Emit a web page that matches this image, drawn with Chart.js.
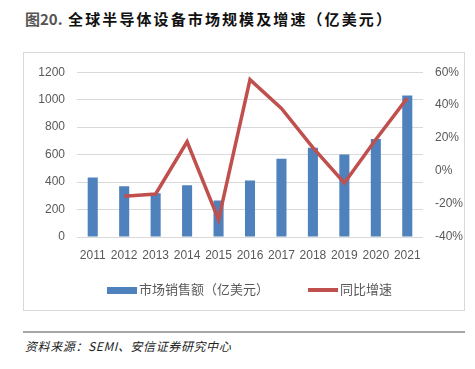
<!DOCTYPE html>
<html>
<head>
<meta charset="utf-8">
<script src="https://cdn.jsdelivr.net/npm/chart.js@4"></script>
<style>
  body { margin: 0; background: #fff; width: 475px; height: 369px; position: relative; overflow: hidden; }
  #title { position: absolute; left: 25px; top: 8px; font: bold 15px "Noto Sans CJK SC"; letter-spacing: 2.1px; color: #111; white-space: nowrap; }
  #title .num { color: #555; letter-spacing: 0; }
  #box { position: absolute; left: 23px; top: 52px; width: 442px; height: 259px; border: 1px solid #d9d9d9; box-sizing: border-box; }
  #chart { position: absolute; left: 0; top: 0; }
  #legend { position: absolute; left: 0; top: 226px; width: 100%; font: 13px "Noto Sans CJK SC"; color: #595959; white-space: nowrap; }
  .item { position: absolute; top: 0; height: 20px; line-height: 20px; }
  .sw { display: inline-block; width: 30px; vertical-align: middle; margin-right: 2px; }
  #rule { position: absolute; left: 23px; top: 331px; width: 442px; height: 2px; background: #a6a6a6; }
  #source { position: absolute; left: 25px; top: 337px; font: italic 12px "Noto Sans CJK SC"; letter-spacing: 0.6px; color: #222; white-space: nowrap; }
</style>
</head>
<body>
<div id="title"><span class="num">图20.</span> 全球半导体设备市场规模及增速（亿美元）</div>
<div id="box">
  <canvas id="chart" width="440" height="257"></canvas>
  <div id="legend">
    <div class="item" style="left:83px"><span class="sw" style="height:7px;background:#4f81bd"></span>市场销售额（亿美元）</div>
    <div class="item" style="left:284px"><span class="sw" style="height:4px;background:#c0504d"></span>同比增速</div>
  </div>
</div>
<div id="rule"></div>
<div id="source">资料来源：SEMI、安信证券研究中心</div>

<script>
const years = ['2011', '2012', '2013', '2014', '2015', '2016', '2017', '2018', '2019', '2020', '2021'];
const sales = [434, 369, 318, 376, 265, 412, 569, 649, 600, 714, 1030];
const growth = [null, -15.3, -13.9, 17.8, -29.5, 55.5, 38.0, 14.2, -7.2, 19.2, 44.3];
const salesTicks = [0, 200, 400, 600, 800, 1000, 1200];
const growthTicks = [-40, -20, 0, 20, 40, 60];

const tickFont = { family: 'Liberation Sans', size: 12 };
const tickColor = '#595959';

const canvas = document.getElementById('chart');

new Chart(canvas.getContext('2d'), {
    data: {
        labels: years,
        datasets: [
            {
                type: 'line',
                label: '同比增速',
                data: growth,
                yAxisID: 'y1',
                borderColor: '#c0504d',
                borderWidth: 3.5,
                pointRadius: 0,
                tension: 0,
                order: 0
            },
            {
                type: 'bar',
                label: '市场销售额（亿美元）',
                data: sales,
                yAxisID: 'y',
                backgroundColor: '#4f81bd',
                barPercentage: 0.32,
                categoryPercentage: 1,
                order: 1
            }
        ]
    },
    options: {
        responsive: false,
        animation: false,
        devicePixelRatio: 1,
        layout: { padding: { top: 18, bottom: 47, left: 0, right: 0 } },
        plugins: { legend: { display: false }, tooltip: { enabled: false } },
        scales: {
            x: {
                grid: { display: false, drawTicks: false },
                border: { display: false },
                afterFit: (s) => { s.height = 26; },
                ticks: { color: tickColor, font: tickFont, padding: 11, maxRotation: 0, autoSkip: false }
            },
            y: {
                position: 'left',
                min: salesTicks[0],
                max: salesTicks[salesTicks.length - 1],
                afterBuildTicks: (s) => { s.ticks = salesTicks.map(v => ({ value: v })); },
                afterFit: (s) => { s.width = 53; },
                grid: { color: '#d9d9d9', drawTicks: false },
                border: { display: false },
                ticks: { color: tickColor, font: tickFont, padding: 12, callback: (v) => String(v) }
            },
            y1: {
                position: 'right',
                min: growthTicks[0],
                max: growthTicks[growthTicks.length - 1],
                afterBuildTicks: (s) => { s.ticks = growthTicks.map(v => ({ value: v })); },
                afterFit: (s) => { s.width = 41; },
                grid: { display: false, drawTicks: false },
                border: { display: false },
                ticks: { color: tickColor, font: tickFont, padding: 12, callback: (v) => v + '%' }
            }
        }
    }
});
</script>
</body>
</html>
